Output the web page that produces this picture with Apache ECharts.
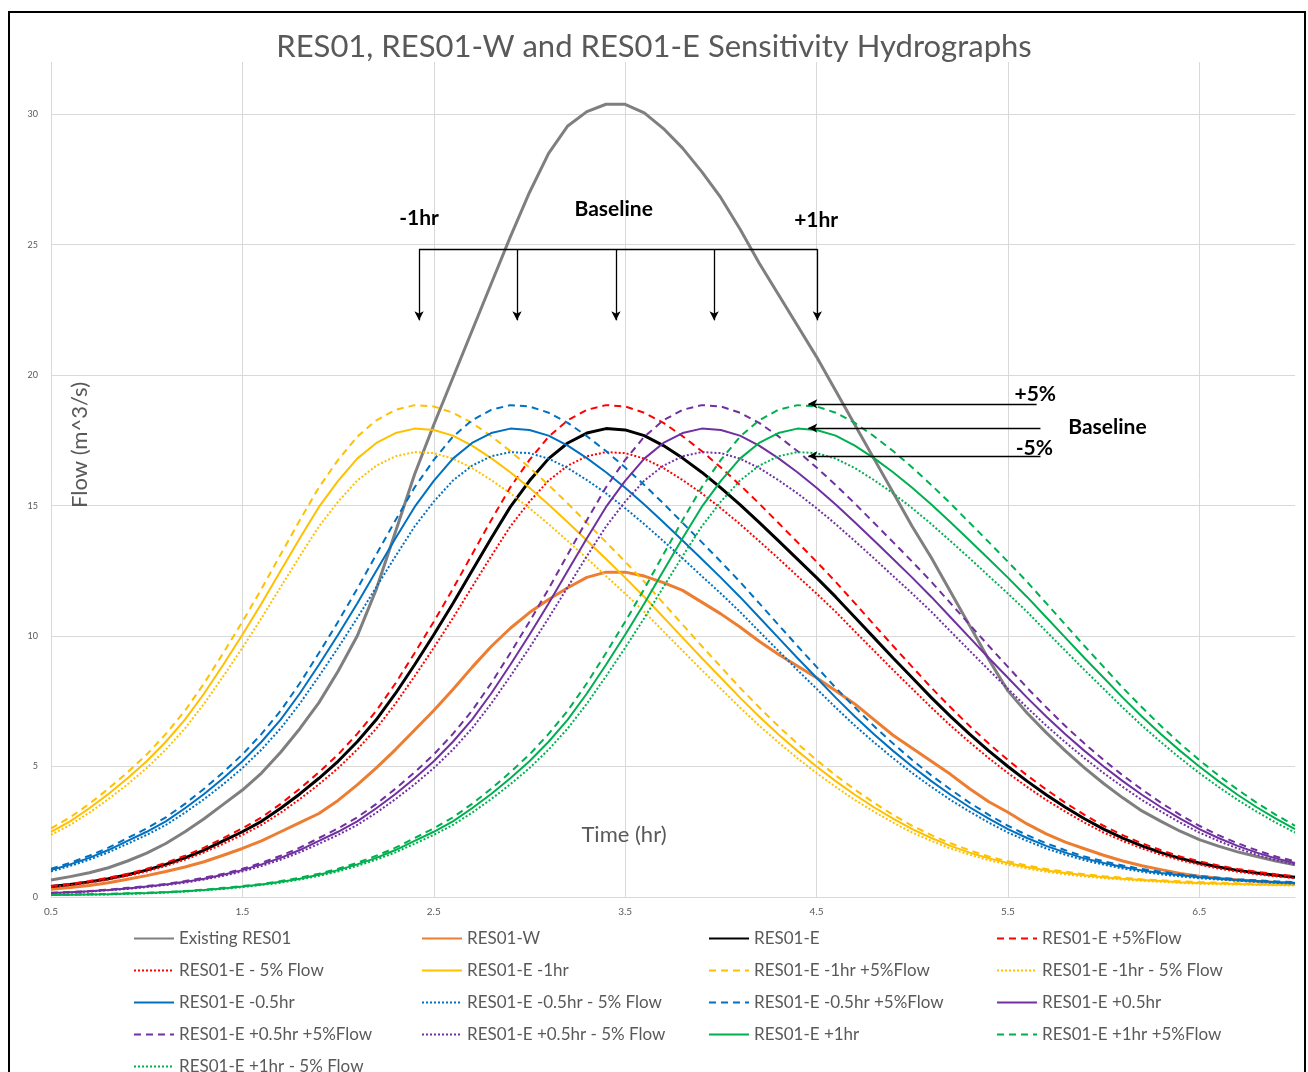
<!DOCTYPE html>
<html>
<head>
<meta charset="utf-8">
<script src="https://cdn.jsdelivr.net/npm/echarts@6/dist/echarts.min.js"></script>
<style>html,body{margin:0;padding:0;background:#fff;}#c{width:1308px;height:1072px;}</style>
</head>
<body>
<div id="c"></div>
<script>
const times = [0.5,0.6,0.7,0.8,0.9,1.0,1.1,1.2,1.3,1.4,1.5,1.6,1.7,1.8,1.9,2.0,2.1,2.2,2.3,2.4,2.5,2.6,2.7,2.8,2.9,3.0,3.1,3.2,3.3,3.4,3.5,3.6,3.7,3.8,3.9,4.0,4.1,4.2,4.3,4.4,4.5,4.6,4.7,4.8,4.9,5.0,5.1,5.2,5.3,5.4,5.5,5.6,5.7,5.8,5.9,6.0,6.1,6.2,6.3,6.4,6.5,6.6,6.7,6.8,6.9,7.0];
const xTicks = [0.5,1.5,2.5,3.5,4.5,5.5,6.5];
const yTicks = [0,5,10,15,20,25,30];

const existingRES01 = [0.65,0.78,0.93,1.12,1.38,1.68,2.05,2.50,3.00,3.55,4.10,4.75,5.55,6.45,7.45,8.65,10.00,11.80,14.00,16.20,18.10,19.90,21.70,23.50,25.30,27.00,28.50,29.55,30.10,30.38,30.38,30.05,29.45,28.70,27.80,26.80,25.60,24.30,23.10,21.90,20.70,19.40,18.10,16.80,15.50,14.20,13.00,11.70,10.40,9.10,7.90,7.05,6.30,5.60,4.95,4.35,3.80,3.30,2.90,2.52,2.20,1.95,1.73,1.55,1.38,1.23];
const res01W = [0.30,0.36,0.44,0.55,0.68,0.82,0.98,1.15,1.35,1.60,1.86,2.15,2.50,2.85,3.20,3.70,4.30,4.95,5.65,6.40,7.15,7.95,8.80,9.60,10.30,10.90,11.40,11.85,12.25,12.45,12.45,12.30,12.05,11.75,11.30,10.85,10.35,9.80,9.30,8.85,8.40,7.90,7.40,6.80,6.20,5.70,5.20,4.70,4.15,3.65,3.25,2.80,2.42,2.10,1.85,1.60,1.38,1.20,1.05,0.90,0.80,0.72,0.65,0.60,0.56,0.53];
const res01E = [0.40,0.48,0.58,0.70,0.85,1.03,1.25,1.50,1.80,2.15,2.50,2.90,3.40,3.95,4.55,5.20,5.95,6.80,7.80,8.90,10.05,11.25,12.50,13.75,14.95,15.95,16.80,17.40,17.78,17.95,17.90,17.68,17.30,16.82,16.28,15.68,15.04,14.36,13.66,12.95,12.24,11.50,10.72,9.94,9.16,8.40,7.64,6.92,6.24,5.60,5.00,4.44,3.92,3.44,3.00,2.60,2.26,1.96,1.70,1.48,1.30,1.15,1.02,0.92,0.83,0.76];
const res01EPlus5 = [0.42,0.50,0.61,0.74,0.89,1.08,1.31,1.58,1.89,2.26,2.63,3.05,3.57,4.15,4.78,5.46,6.25,7.14,8.19,9.35,10.55,11.81,13.13,14.44,15.70,16.75,17.64,18.27,18.67,18.85,18.80,18.56,18.17,17.66,17.09,16.46,15.79,15.08,14.34,13.60,12.85,12.08,11.26,10.44,9.62,8.82,8.02,7.27,6.55,5.88,5.25,4.66,4.12,3.61,3.15,2.73,2.37,2.06,1.79,1.55,1.37,1.21,1.07,0.97,0.87,0.80];
const res01EMinus5 = [0.38,0.46,0.55,0.67,0.81,0.98,1.19,1.43,1.71,2.04,2.38,2.76,3.23,3.75,4.32,4.94,5.65,6.46,7.41,8.46,9.55,10.69,11.88,13.06,14.20,15.15,15.96,16.53,16.89,17.05,17.01,16.80,16.44,15.98,15.47,14.90,14.29,13.64,12.98,12.30,11.63,10.93,10.18,9.44,8.70,7.98,7.26,6.57,5.93,5.32,4.75,4.22,3.72,3.27,2.85,2.47,2.15,1.86,1.62,1.41,1.24,1.09,0.97,0.87,0.79,0.72];
const em1hr = [2.50,2.90,3.40,3.95,4.55,5.20,5.95,6.80,7.80,8.90,10.05,11.25,12.50,13.75,14.95,15.95,16.80,17.40,17.78,17.95,17.90,17.68,17.30,16.82,16.28,15.68,15.04,14.36,13.66,12.95,12.24,11.50,10.72,9.94,9.16,8.40,7.64,6.92,6.24,5.60,5.00,4.44,3.92,3.44,3.00,2.60,2.26,1.96,1.70,1.48,1.30,1.15,1.02,0.92,0.83,0.76,0.70,0.65,0.61,0.57,0.54,0.52,0.50,0.48,0.47,0.46];
const em1hrPlus5 = [2.63,3.05,3.57,4.15,4.78,5.46,6.25,7.14,8.19,9.35,10.55,11.81,13.13,14.44,15.70,16.75,17.64,18.27,18.67,18.85,18.80,18.56,18.17,17.66,17.09,16.46,15.79,15.08,14.34,13.60,12.85,12.08,11.26,10.44,9.62,8.82,8.02,7.27,6.55,5.88,5.25,4.66,4.12,3.61,3.15,2.73,2.37,2.06,1.79,1.55,1.37,1.21,1.07,0.97,0.87,0.80,0.74,0.68,0.64,0.60,0.57,0.55,0.53,0.50,0.49,0.48];
const em1hrMinus5 = [2.38,2.76,3.23,3.75,4.32,4.94,5.65,6.46,7.41,8.46,9.55,10.69,11.88,13.06,14.20,15.15,15.96,16.53,16.89,17.05,17.01,16.80,16.44,15.98,15.47,14.90,14.29,13.64,12.98,12.30,11.63,10.93,10.18,9.44,8.70,7.98,7.26,6.57,5.93,5.32,4.75,4.22,3.72,3.27,2.85,2.47,2.15,1.86,1.62,1.41,1.24,1.09,0.97,0.87,0.79,0.72,0.67,0.62,0.58,0.54,0.51,0.49,0.48,0.46,0.45,0.44];
const em05hr = [1.03,1.25,1.50,1.80,2.15,2.50,2.90,3.40,3.95,4.55,5.20,5.95,6.80,7.80,8.90,10.05,11.25,12.50,13.75,14.95,15.95,16.80,17.40,17.78,17.95,17.90,17.68,17.30,16.82,16.28,15.68,15.04,14.36,13.66,12.95,12.24,11.50,10.72,9.94,9.16,8.40,7.64,6.92,6.24,5.60,5.00,4.44,3.92,3.44,3.00,2.60,2.26,1.96,1.70,1.48,1.30,1.15,1.02,0.92,0.83,0.76,0.70,0.65,0.61,0.57,0.54];
const em05hrMinus5 = [0.98,1.19,1.43,1.71,2.04,2.38,2.76,3.23,3.75,4.32,4.94,5.65,6.46,7.41,8.46,9.55,10.69,11.88,13.06,14.20,15.15,15.96,16.53,16.89,17.05,17.01,16.80,16.44,15.98,15.47,14.90,14.29,13.64,12.98,12.30,11.63,10.93,10.18,9.44,8.70,7.98,7.26,6.57,5.93,5.32,4.75,4.22,3.72,3.27,2.85,2.47,2.15,1.86,1.62,1.41,1.24,1.09,0.97,0.87,0.79,0.72,0.67,0.62,0.58,0.54,0.51];
const em05hrPlus5 = [1.08,1.31,1.58,1.89,2.26,2.63,3.05,3.57,4.15,4.78,5.46,6.25,7.14,8.19,9.35,10.55,11.81,13.13,14.44,15.70,16.75,17.64,18.27,18.67,18.85,18.80,18.56,18.17,17.66,17.09,16.46,15.79,15.08,14.34,13.60,12.85,12.08,11.26,10.44,9.62,8.82,8.02,7.27,6.55,5.88,5.25,4.66,4.12,3.61,3.15,2.73,2.37,2.06,1.79,1.55,1.37,1.21,1.07,0.97,0.87,0.80,0.74,0.68,0.64,0.60,0.57];
const ep05hr = [0.15,0.18,0.22,0.27,0.33,0.40,0.48,0.58,0.70,0.85,1.03,1.25,1.50,1.80,2.15,2.50,2.90,3.40,3.95,4.55,5.20,5.95,6.80,7.80,8.90,10.05,11.25,12.50,13.75,14.95,15.95,16.80,17.40,17.78,17.95,17.90,17.68,17.30,16.82,16.28,15.68,15.04,14.36,13.66,12.95,12.24,11.50,10.72,9.94,9.16,8.40,7.64,6.92,6.24,5.60,5.00,4.44,3.92,3.44,3.00,2.60,2.26,1.96,1.70,1.48,1.30];
const ep05hrPlus5 = [0.16,0.19,0.23,0.28,0.35,0.42,0.50,0.61,0.74,0.89,1.08,1.31,1.58,1.89,2.26,2.63,3.05,3.57,4.15,4.78,5.46,6.25,7.14,8.19,9.35,10.55,11.81,13.13,14.44,15.70,16.75,17.64,18.27,18.67,18.85,18.80,18.56,18.17,17.66,17.09,16.46,15.79,15.08,14.34,13.60,12.85,12.08,11.26,10.44,9.62,8.82,8.02,7.27,6.55,5.88,5.25,4.66,4.12,3.61,3.15,2.73,2.37,2.06,1.79,1.55,1.37];
const ep05hrMinus5 = [0.14,0.17,0.21,0.26,0.31,0.38,0.46,0.55,0.67,0.81,0.98,1.19,1.43,1.71,2.04,2.38,2.76,3.23,3.75,4.32,4.94,5.65,6.46,7.41,8.46,9.55,10.69,11.88,13.06,14.20,15.15,15.96,16.53,16.89,17.05,17.01,16.80,16.44,15.98,15.47,14.90,14.29,13.64,12.98,12.30,11.63,10.93,10.18,9.44,8.70,7.98,7.26,6.57,5.93,5.32,4.75,4.22,3.72,3.27,2.85,2.47,2.15,1.86,1.62,1.41,1.24];
const ep1hr = [0.08,0.09,0.10,0.11,0.13,0.15,0.18,0.22,0.27,0.33,0.40,0.48,0.58,0.70,0.85,1.03,1.25,1.50,1.80,2.15,2.50,2.90,3.40,3.95,4.55,5.20,5.95,6.80,7.80,8.90,10.05,11.25,12.50,13.75,14.95,15.95,16.80,17.40,17.78,17.95,17.90,17.68,17.30,16.82,16.28,15.68,15.04,14.36,13.66,12.95,12.24,11.50,10.72,9.94,9.16,8.40,7.64,6.92,6.24,5.60,5.00,4.44,3.92,3.44,3.00,2.60];
const ep1hrPlus5 = [0.08,0.09,0.11,0.12,0.14,0.16,0.19,0.23,0.28,0.35,0.42,0.50,0.61,0.74,0.89,1.08,1.31,1.58,1.89,2.26,2.63,3.05,3.57,4.15,4.78,5.46,6.25,7.14,8.19,9.35,10.55,11.81,13.13,14.44,15.70,16.75,17.64,18.27,18.67,18.85,18.80,18.56,18.17,17.66,17.09,16.46,15.79,15.08,14.34,13.60,12.85,12.08,11.26,10.44,9.62,8.82,8.02,7.27,6.55,5.88,5.25,4.66,4.12,3.61,3.15,2.73];
const ep1hrMinus5 = [0.08,0.09,0.10,0.10,0.12,0.14,0.17,0.21,0.26,0.31,0.38,0.46,0.55,0.67,0.81,0.98,1.19,1.43,1.71,2.04,2.38,2.76,3.23,3.75,4.32,4.94,5.65,6.46,7.41,8.46,9.55,10.69,11.88,13.06,14.20,15.15,15.96,16.53,16.89,17.05,17.01,16.80,16.44,15.98,15.47,14.90,14.29,13.64,12.98,12.30,11.63,10.93,10.18,9.44,8.70,7.98,7.26,6.57,5.93,5.32,4.75,4.22,3.72,3.27,2.85,2.47];

const FONT = 'Lato, "Open Sans", sans-serif';
const TXT = '#595959';
const DASH = [7, 5];
const DOT = [2, 2];

// name, values, color, dash, width (legend order, row-major 4 columns)
const seriesDefs = [
  ['Existing RES01', existingRES01, '#7f7f7f', 'solid', 3],
  ['RES01-W', res01W, '#ed7d31', 'solid', 3],
  ['RES01-E', res01E, '#000000', 'solid', 3],
  ['RES01-E +5%Flow', res01EPlus5, '#ff0000', DASH, 2],
  ['RES01-E - 5% Flow', res01EMinus5, '#ff0000', DOT, 2],
  ['RES01-E -1hr', em1hr, '#ffc000', 'solid', 2],
  ['RES01-E -1hr +5%Flow', em1hrPlus5, '#ffc000', DASH, 2],
  ['RES01-E -1hr - 5% Flow', em1hrMinus5, '#ffc000', DOT, 2],
  ['RES01-E -0.5hr', em05hr, '#0070c0', 'solid', 2],
  ['RES01-E -0.5hr - 5% Flow', em05hrMinus5, '#0070c0', DOT, 2],
  ['RES01-E -0.5hr +5%Flow', em05hrPlus5, '#0070c0', DASH, 2],
  ['RES01-E +0.5hr', ep05hr, '#7030a0', 'solid', 2],
  ['RES01-E +0.5hr +5%Flow', ep05hrPlus5, '#7030a0', DASH, 2],
  ['RES01-E +0.5hr - 5% Flow', ep05hrMinus5, '#7030a0', DOT, 2],
  ['RES01-E +1hr', ep1hr, '#00b050', 'solid', 2],
  ['RES01-E +1hr +5%Flow', ep1hrPlus5, '#00b050', DASH, 2],
  ['RES01-E +1hr - 5% Flow', ep1hrMinus5, '#00b050', DOT, 2]
];

// annotation arrows (data coordinates)
const arrowTop = 24.83, arrowTip = 22.1;
const peakTimes = [2.423, 2.935, 3.452, 3.965, 4.504];
const sideArrows = [[5.65, 18.90], [5.67, 17.97], [5.67, 16.90]];
const sideTip = 4.457;

const markData = [];
markData.push([{coord: [peakTimes[0], arrowTop], symbol: 'none'}, {coord: [peakTimes[4], arrowTop], symbol: 'none'}]);
peakTimes.forEach(t => markData.push([{coord: [t, arrowTop]}, {coord: [t, arrowTip]}]));
sideArrows.forEach(a => markData.push([{coord: [a[0], a[1]]}, {coord: [sideTip, a[1]]}]));

const series = seriesDefs.map((d, i) => {
  const s = {
    name: d[0], type: 'line', showSymbol: false, symbol: 'none',
    data: times.map((t, k) => [t, d[1][k]]),
    lineStyle: {color: d[2], width: d[4], type: d[3]},
    itemStyle: {color: d[2]},
    emphasis: {disabled: true},
    z: 2
  };
  if (i === 2) {
    s.markLine = {
      silent: true, symbol: ['none', 'arrow'], symbolSize: [7, 9],
      label: {show: false},
      lineStyle: {color: '#000', width: 1.3, type: 'solid'},
      emphasis: {disabled: true},
      data: markData
    };
  }
  return s;
});

const colX = [133, 421, 708, 996];
const ROW0 = 930, PITCH = 32;
const legendBase = {
  orient: 'vertical', padding: 0,
  itemWidth: 40, itemHeight: 14, itemGap: 15,
  selectedMode: false,
  itemStyle: {opacity: 0},
  textStyle: {color: TXT, fontSize: 17, fontFamily: FONT, lineHeight: 14}
};
const legends = colX.map((x, c) => Object.assign({}, legendBase, {
  left: x, top: ROW0,
  data: seriesDefs.filter((d, i) => i % 4 === c && i < 16).map(d => d[0])
}));
legends.push(Object.assign({}, legendBase, {
  left: colX[0], top: ROW0 + 4 * PITCH,
  data: [seriesDefs[16][0]]
}));

const chart = echarts.init(document.getElementById('c'));
chart.setOption({
  animation: false,
  backgroundColor: '#fff',
  title: {
    text: 'RES01, RES01-W and RES01-E Sensitivity Hydrographs',
    left: 'center', top: 26,
    textStyle: {color: TXT, fontSize: 31, fontWeight: 'normal', fontFamily: FONT}
  },
  grid: {left: 51, right: 13, top: 62, bottom: 175},
  legend: legends,
  xAxis: {
    type: 'value', min: 0.5, max: 7.0,
    axisLine: {show: true, lineStyle: {color: '#d9d9d9', width: 1}},
    axisTick: {show: false, customValues: xTicks},
    axisLabel: {customValues: xTicks, color: TXT, fontSize: 10, fontFamily: FONT, margin: 10},
    splitLine: {show: true, lineStyle: {color: '#d9d9d9', width: 1}}
  },
  yAxis: {
    type: 'value', min: 0, max: 32,
    axisLine: {show: false},
    axisTick: {show: false, customValues: yTicks},
    axisLabel: {customValues: yTicks, color: TXT, fontSize: 9, fontFamily: FONT, margin: 13},
    splitLine: {show: true, lineStyle: {color: '#d9d9d9', width: 1}}
  },
  series: series
});

const P = (t, v) => chart.convertToPixel({gridIndex: 0}, [t, v]);
const bold = (txt, t, v) => {
  const p = P(t, v);
  return {type: 'text', x: p[0], y: p[1], z: 10,
    style: {text: txt, fill: '#000', font: 'bold 21px ' + FONT, textAlign: 'center', textVerticalAlign: 'middle'}};
};
chart.setOption({
  graphic: [
    {type: 'rect', shape: {x: 9, y: 12, width: 1296, height: 1100}, style: {fill: 'none', stroke: '#000', lineWidth: 2}, z: 20, silent: true},
    {type: 'text', x: 80, y: 445, rotation: Math.PI / 2, z: 10,
      style: {text: 'Flow (m^3/s)', fill: TXT, font: '22px ' + FONT, textAlign: 'center', textVerticalAlign: 'middle'}},
    {type: 'text', x: 624, y: 835, z: 10,
      style: {text: 'Time (hr)', fill: TXT, font: '22px ' + FONT, textAlign: 'center', textVerticalAlign: 'middle'}},
    bold('-1hr', 2.423, 26.0),
    bold('Baseline', 3.44, 26.36),
    bold('+1hr', 4.498, 25.94),
    bold('+5%', 5.643, 19.27),
    bold('Baseline', 6.02, 18.0),
    bold('-5%', 5.638, 17.2)
  ]
});
</script>
</body>
</html>
